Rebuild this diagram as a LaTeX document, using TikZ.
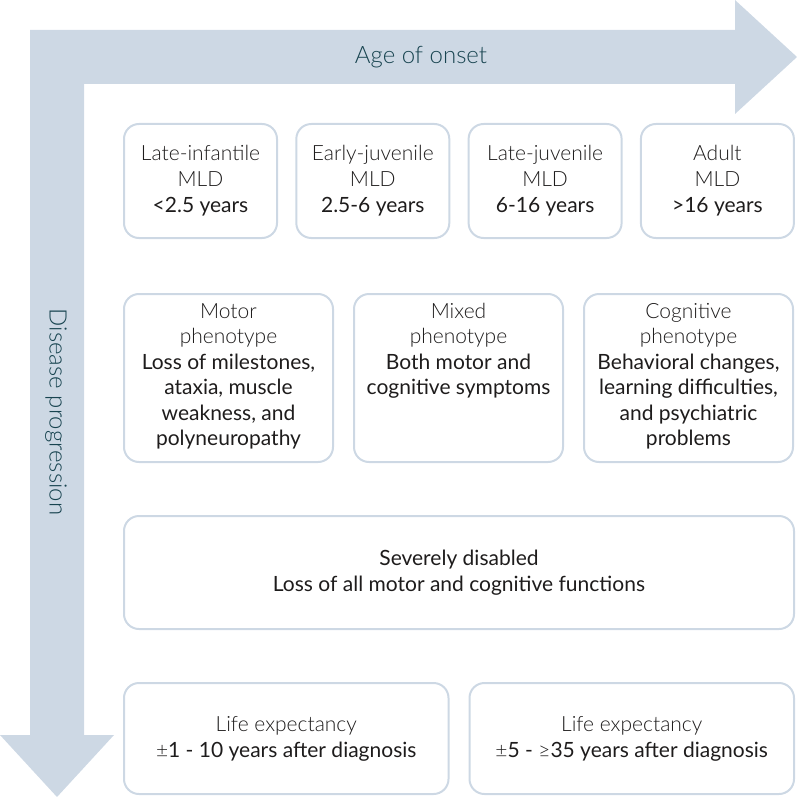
\documentclass[tikz,border=0pt]{standalone}
\usepackage{fontspec}
\setmainfont{Lato}
\newfontfamily\lightfont{Lato Light}
\usepackage{xcolor}
\definecolor{band}{RGB}{205,216,228}
\definecolor{headink}{RGB}{24,68,80}
\definecolor{ink}{RGB}{30,28,28}
\usetikzlibrary{positioning}
\newcommand{\Thin}[1]{{\lightfont #1}}
\tikzstyle{Box} = [
draw=band, line width=2pt, rounded corners=15pt,
align=center, text=ink, inner sep=0pt,
font=\fontsize{21}{26}\selectfont]
\tikzstyle{Info} = [
align=center, text=ink, inner sep=0pt,
font=\fontsize{21}{25.5}\selectfont]
\tikzstyle{Label} = [
text=headink, inner sep=0pt,
font=\fontsize{24}{28}\selectfont\lightfont]

\begin{document}
\begin{tikzpicture}[x=1pt, y=-1pt]
    \useasboundingbox (0,0) rectangle (797,797);
    % the two axis arrows
    \fill[band] (30,30) -- (735,30) -- (735,0) -- (797,57) -- (735,114)
        -- (735,84) -- (84,84) -- (84,735) -- (114,735) -- (57,797)
        -- (0,735) -- (30,735) -- cycle;
    \node[Label] (onset) at (421,57) {Age of onset};
    \node[Label, rotate=-90] (progression) at (56,412) {Disease progression};

    % age of onset
    \node[Box, minimum width=153pt, minimum height=114pt] (1) at (200.5,181)
        {\Thin{Late-infantile}\\ \Thin{MLD}\\ <2.5 years};
    \node[Box, minimum width=153pt, minimum height=114pt, right =17.3pt of 1] (2)
        {\Thin{Early-juvenile}\\ \Thin{MLD}\\ 2.5-6 years};
    \node[Box, minimum width=153pt, minimum height=114pt, right =17.3pt of 2] (3)
        {\Thin{Late-juvenile}\\ \Thin{MLD}\\ 6-16 years};
    \node[Box, minimum width=153pt, minimum height=114pt, right =17.3pt of 3] (4)
        {\Thin{Adult}\\ \Thin{MLD}\\ >16 years};

    % phenotypes
    \node[Box, minimum width=209pt, minimum height=168pt,
        below =54pt of 1.south west, anchor=north west] (5) {};
    \node[Box, minimum width=209pt, minimum height=168pt, right =19pt of 5] (6) {};
    \node[Box, minimum width=209pt, minimum height=168pt, right =19pt of 6] (7) {};
    \node[Info, below =10pt of 5.north] (5t) {\Thin{Motor}\\ \Thin{phenotype}\\
        Loss of milestones,\\ ataxia, muscle\\ weakness, and\\ polyneuropathy};
    \node[Info, below =10pt of 6.north] (6t) {\Thin{Mixed}\\ \Thin{phenotype}\\
        Both motor and\\ cognitive symptoms};
    \node[Info, below =10pt of 7.north] (7t) {\Thin{Cognitive}\\ \Thin{phenotype}\\
        Behavioral changes,\\ learning difficulties,\\ and psychiatric\\ problems};

    % end stage
    \node[Box, minimum width=670pt, minimum height=113pt,
        below =52pt of 5.south west, anchor=north west] (8)
        {Severely disabled\\ Loss of all motor and cognitive functions};

    % life expectancy
    \node[Box, minimum width=324.5pt, minimum height=111pt,
        below =52pt of 8.south west, anchor=north west] (9)
        {\Thin{Life expectancy}\\ \Thin{±}1 - 10 years after diagnosis};
    \node[Box, minimum width=324.5pt, minimum height=111pt, right =19pt of 9] (10)
        {\Thin{Life expectancy}\\ \Thin{±}5 - \Thin{≥}35 years after diagnosis};
\end{tikzpicture}
\end{document}
